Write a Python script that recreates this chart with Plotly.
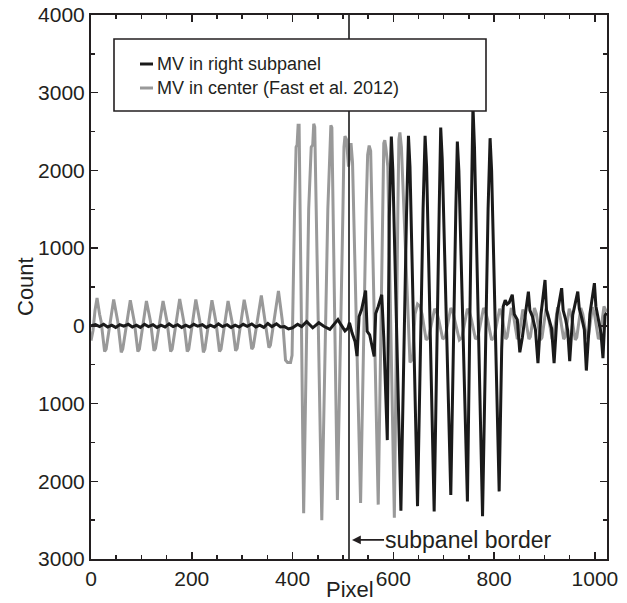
import plotly.graph_objects as go

# ---------------- data ----------------
center_name = "MV in center (Fast et al. 2012)"
right_name = "MV in right subpanel"

center_x = [0, 4, 8, 12, 17, 20, 27, 30,
            45, 50, 53, 60, 63,
            78, 83, 86, 93, 96,
            110, 115, 118, 125, 128,
            143, 148, 151, 158, 161,
            176, 181, 184, 191, 194,
            208, 213, 216, 223, 226,
            240, 245, 248, 255, 258,
            272, 277, 280, 287, 290,
            304, 309, 312, 319, 322,
            338, 343, 346, 353, 356,
            372, 377, 381, 386, 390, 396, 399,
            404, 407, 409, 411, 413,
            422, 432, 437, 440, 442, 444,
            458, 470, 474, 476, 478,
            489, 500, 502, 504, 507, 511, 514, 516, 519,
            535, 546, 549, 552, 555,
            570, 579, 581, 583, 585, 589,
            602, 609, 611, 613, 616,
            633, 638, 643, 648, 653, 657, 665, 670,
            682, 686, 690, 698, 703,
            714, 718, 722, 731, 736,
            747, 751, 755, 763, 768,
            779, 783, 787, 795, 800,
            811, 815, 823, 826,
            834, 838, 846, 849,
            857, 861, 869, 872,
            880, 884, 892, 895,
            903, 907, 915, 918,
            926, 930, 938, 941,
            949, 953, 961, 964,
            972, 976, 984, 987,
            995, 999, 1007, 1010,
            1018, 1023]
center_y = [-190, -60, 200, 360, 150, 60, -330, -300,
            340, 150, 60, -340, -300,
            330, 140, 50, -330, -300,
            320, 150, 60, -320, -290,
            320, 150, 50, -330, -300,
            345, 150, 60, -330, -300,
            340, 150, 60, -340, -300,
            330, 150, 50, -330, -300,
            320, 140, 50, -320, -290,
            335, 150, 60, -300, -270,
            390, 170, 80, -280, -250,
            450, 200, 0, -440, -470, -470, -380,
            1500, 2300, 2330, 2580, 2580,
            -2410, 1500, 2300, 2330, 2600, 2560,
            -2500, 1500, 2250, 2580, 2550,
            -2240, 1500, 2300, 2440, 2400, 2050, 2300, 2350, 2100,
            -2280, 1500, 2200, 2320, 2250,
            -2300, 1600, 2350, 2390, 2300, 2050,
            -2470, 1500, 2400, 2490, 2300,
            -470, -430, 150, 280, 250, 150, -180, -150,
            220, 180, 80, -170, -140,
            230, 180, 80, -180, -150,
            220, 180, 80, -170, -140,
            230, 180, 80, -180, -150,
            220, 150, -170, -140,
            230, 150, -170, -140,
            210, 140, -170, -140,
            230, 150, -180, -150,
            220, 150, -170, -140,
            240, 160, -170, -140,
            220, 150, -180, -150,
            230, 150, -170, -140,
            240, 160, -170, -140,
            250, 180]

right_x = [0, 9, 17, 25, 33, 41, 49, 57, 65, 74, 82, 90, 98, 106, 114, 123,
           131, 139, 147, 155, 163, 172, 180, 188, 196, 204, 212, 221, 229,
           237, 245, 253, 261, 270, 278, 286, 294, 302, 310, 319, 327, 335,
           343, 351, 359, 368, 376,
           384, 392, 400, 410, 418, 428, 440, 452, 462, 474, 484, 490, 496,
           504, 510, 513, 518, 524, 528, 532, 537, 545, 548, 553, 562, 565,
           570, 577, 581, 585, 588, 592, 596, 599,
           615, 626, 630, 633,
           648, 659, 663, 666,
           681, 691, 694, 697,
           714, 724, 727, 730,
           747, 755, 758, 761,
           777, 788, 792, 795,
           810, 815, 818, 822, 826, 830, 836, 840, 846, 851, 856, 862,
           868, 871, 876, 882, 887, 893,
           901, 904, 909, 914, 919, 925,
           934, 937, 942, 946, 950, 956,
           966, 969, 974, 979, 983, 990,
           999, 1002, 1007, 1012, 1016, 1020, 1023]
right_y = [0, 15, -10, 20, -15, 10, -20, 15, -5, 20, -15, 10, -20, 20, -10, 15,
           -20, 10, -15, 25, -10, 15, -20, 10, -15, 20, -5, 15, -20,
           10, -15, 25, -10, 15, -20, 10, -15, 20, -5, 25, -15, 10,
           -20, 30, -10, 25, -15,
           -10, -40, -25, 20, -10, 55, -25, 40, -5, -45, 30, 80, 15,
           -65, -30, 40, -90, -200, -390, 120, 210, 455, -70, -115, -395, 160,
           250, 400, -150, -900, -1470, 1400, 2436, 2000,
           -2380, 1400, 2445, 2050,
           -2320, 1500, 2445, 2050,
           -2390, 1500, 2552, 2150,
           -2175, 1500, 2372, 2000,
           -2260, 1600, 2830, 2300,
           -2450, 1500, 2415, 2000,
           -2130, -300, 250, 330, 280, 300, 400, 150, 80, -340, -150, 150,
           440, 200, 120, -50, -480, 150,
           590, 200, 100, -30, -480, 150,
           485, 200, 80, -60, -455, 140,
           440, 220, 100, -50, -575, 150,
           550, 250, 80, -90, -416, 130, 170]

border_x = 512
border_label = "subpanel border"

x_tickvals = [0, 200, 400, 600, 800, 1000]
y_tickvals = [-3000, -2000, -1000, 0, 1000, 2000, 3000, 4000]
y_ticktext = ["3000", "2000", "1000", "0", "1000", "2000", "3000", "4000"]

# ---------------- styling ----------------
INK = "#231f20"
GRAY = "#999999"
BLACK = "#1a1a1a"
FONT = "Liberation Sans, Arial, sans-serif"

fig = go.Figure()
fig.add_trace(go.Scatter(x=center_x, y=center_y, mode="lines", name=center_name,
                         line=dict(color=GRAY, width=3), showlegend=False))
fig.add_trace(go.Scatter(x=right_x, y=right_y, mode="lines", name=right_name,
                         line=dict(color=BLACK, width=3), showlegend=False))

axis_common = dict(showline=True, linewidth=2, linecolor=INK, mirror="allticks",
                   ticks="inside", ticklen=7, tickwidth=1.5, tickcolor=INK,
                   showgrid=False, zeroline=False, automargin=False,
                   tickfont=dict(family=FONT, size=21, color=INK))

fig.update_xaxes(range=[0, 1024], tickvals=x_tickvals, **axis_common,
                 minor=dict(tick0=0, dtick=50, ticks="inside", ticklen=4,
                            tickwidth=1.5, tickcolor=INK, showgrid=False))
fig.update_yaxes(range=[-3000, 4000], tickvals=y_tickvals, ticktext=y_ticktext,
                 **axis_common,
                 minor=dict(tick0=0, dtick=500, ticks="inside", ticklen=4,
                            tickwidth=1.5, tickcolor=INK, showgrid=False))

L, R, T, B = 91, 20, 15, 44
W, H = 627, 603
pw, ph = W - L - R, H - T - B


def px_x(p):
    return (p - L) / pw


def px_y(p):
    return (H - B - p) / ph


shapes = [
    dict(type="line", xref="x", yref="paper", x0=border_x, x1=border_x, y0=0, y1=1,
         line=dict(color=BLACK, width=1.6), layer="above"),
    dict(type="rect", xref="paper", yref="paper", x0=px_x(114), x1=px_x(486),
         y0=px_y(111), y1=px_y(39), line=dict(color=INK, width=1.6),
         fillcolor="white", layer="above"),
]
legend_rows = [(right_name, BLACK, 64), (center_name, GRAY, 88)]
annotations = []
for name, col, yy in legend_rows:
    shapes.append(dict(type="line", xref="paper", yref="paper", x0=px_x(140), x1=px_x(153),
                       y0=px_y(yy), y1=px_y(yy), line=dict(color=col, width=3),
                       layer="above"))
    annotations.append(dict(text=name, xref="paper", yref="paper", x=px_x(155), y=px_y(yy),
                            xanchor="left", yanchor="middle", showarrow=False,
                            font=dict(family=FONT, size=18, color=INK)))

annotations += [
    dict(text="Pixel", xref="paper", yref="paper", x=px_x(350), y=px_y(589),
         xanchor="center", yanchor="middle", showarrow=False,
         font=dict(family=FONT, size=22, color=INK)),
    dict(text="Count", xref="paper", yref="paper", x=px_x(25), y=px_y(287),
         xanchor="center", yanchor="middle", showarrow=False, textangle=-90,
         font=dict(family=FONT, size=22, color=INK)),
    dict(text=border_label, xref="x", yref="y", x=518, y=-2754,
         ax=116, ay=0, showarrow=True, arrowhead=2, arrowsize=1.1, arrowwidth=1.6,
         arrowcolor=INK, standoff=0, borderpad=0,
         font=dict(family=FONT, size=23, color=INK)),
]

fig.update_layout(width=W, height=H, autosize=False,
                  margin=dict(l=L, r=R, t=T, b=B, autoexpand=False),
                  paper_bgcolor="white", plot_bgcolor="white",
                  showlegend=False, shapes=shapes, annotations=annotations,
                  font=dict(family=FONT, color=INK))

fig.write_html("out.html", config={"displayModeBar": False, "staticPlot": True},
               post_script="document.body.style.margin='0';document.body.style.overflow='hidden';")
